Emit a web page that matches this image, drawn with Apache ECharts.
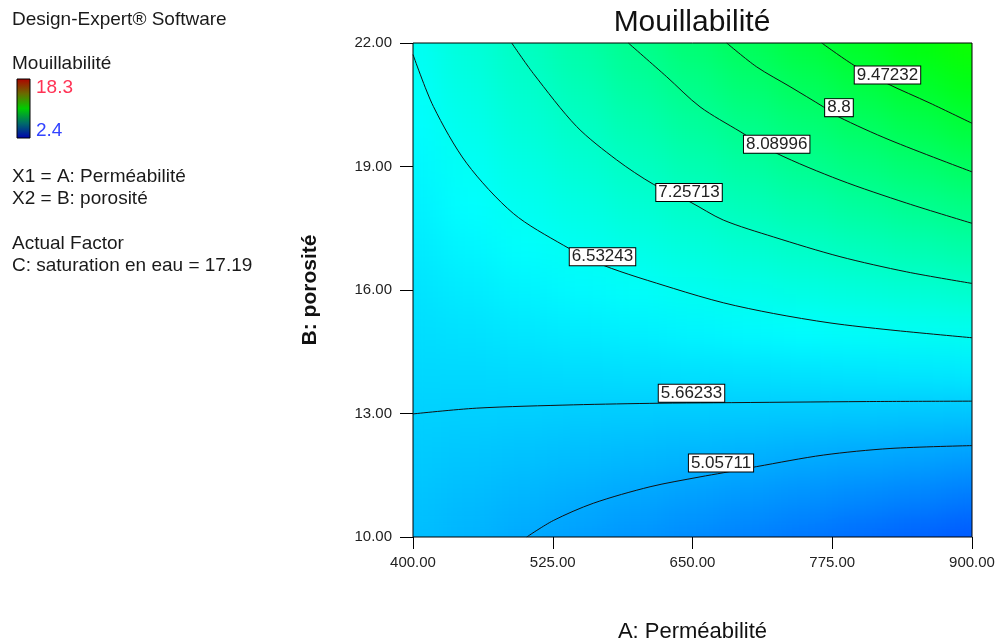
<!DOCTYPE html>
<html><head><meta charset="utf-8">
<script src="https://cdn.jsdelivr.net/npm/echarts@6/dist/echarts.min.js"></script>
<style>
html,body{margin:0;padding:0;background:#fff;}
#wrap{position:relative;width:997px;height:641px;overflow:hidden;background:#fff;}
#clip{position:absolute;left:413px;top:43px;width:559px;height:494px;overflow:hidden;}
#heat{position:absolute;left:-60px;top:-60px;width:679px;height:614px;filter:url(#smooth);}
#main{position:absolute;left:0;top:0;width:997px;height:641px;}
</style></head>
<body>
<svg width="0" height="0" style="position:absolute">
  <filter id="smooth" x="0" y="0" width="100%" height="100%" color-interpolation-filters="sRGB">
    <feGaussianBlur stdDeviation="16"/>
    <feComponentTransfer><feFuncA type="linear" slope="40" intercept="0"/></feComponentTransfer>
  </filter>
</svg>
<div id="wrap">
  <div id="clip"><div id="heat"></div></div>
  <div id="main"></div>
</div>
<script>
// ---- data ----
const permeabiliteX = [400, 450, 500, 550, 600, 650, 700, 750, 800, 850, 900];
const porositeY = [10, 11, 12, 13, 14, 15, 16, 17, 18, 19, 20, 21, 22];
// estimated Mouillabilité at each (porosité row, perméabilité column)
const surface = [
  [5.36, 5.20, 5.04, 4.88, 4.72, 4.57, 4.41, 4.25, 4.09, 3.93, 3.77],
  [5.46, 5.35, 5.24, 5.12, 5.01, 4.90, 4.79, 4.67, 4.56, 4.45, 4.34],
  [5.56, 5.49, 5.43, 5.36, 5.30, 5.23, 5.17, 5.10, 5.04, 4.97, 4.90],
  [5.66, 5.64, 5.62, 5.60, 5.58, 5.57, 5.55, 5.53, 5.51, 5.49, 5.47],
  [5.76, 5.79, 5.82, 5.84, 5.87, 5.90, 5.93, 5.95, 5.98, 6.01, 6.04],
  [5.86, 5.93, 6.01, 6.08, 6.16, 6.23, 6.31, 6.38, 6.46, 6.53, 6.60],
  [5.96, 6.08, 6.20, 6.32, 6.44, 6.57, 6.69, 6.81, 6.93, 7.05, 7.17],
  [6.06, 6.23, 6.40, 6.56, 6.73, 6.90, 7.07, 7.23, 7.40, 7.57, 7.74],
  [6.16, 6.37, 6.59, 6.80, 7.02, 7.23, 7.45, 7.66, 7.88, 8.09, 8.30],
  [6.26, 6.52, 6.78, 7.04, 7.30, 7.57, 7.83, 8.09, 8.35, 8.61, 8.87],
  [6.36, 6.67, 6.98, 7.28, 7.59, 7.90, 8.21, 8.51, 8.82, 9.13, 9.44],
  [6.46, 6.81, 7.17, 7.52, 7.88, 8.23, 8.59, 8.94, 9.30, 9.65, 10.00],
  [6.56, 6.96, 7.36, 7.76, 8.16, 8.57, 8.97, 9.37, 9.77, 10.17, 10.57]
];
const colorMin = 2.4, colorMax = 18.3;

const contour5057 = [[501.7,10],[525.5,10.40],[561.3,10.82],[612,11.22],[656.7,11.46],[677.5,11.56],[707.4,11.71],[767,11.99],[826.7,12.15],[900,12.22]];
const contour5662 = [[400,12.99],[457,13.13],[543.4,13.21],[620.9,13.25],[668.6,13.26],[805.8,13.29],[900,13.30]];
const contour6532 = [[400,21.72],[418.2,20.46],[448,19.08],[489.7,17.86],[534.4,17.09],[570.2,16.60],[632.8,16.04],[677.5,15.69],[722.3,15.43],[773,15.20],[826.7,15.03],[900,14.84]];
const contour7257 = [[488.3,22],[507.6,21.26],[546.4,19.97],[582.2,19.16],[614.9,18.57],[647.8,18.14],[677.5,17.70],[722.3,17.29],[781.9,16.81],[841.6,16.44],[900,16.16]];
const contour8090 = [[592.6,22],[626.9,21.18],[656.7,20.45],[692.5,19.85],[725.3,19.32],[781.9,18.67],[841.6,18.11],[900,17.62]];
const contour8800 = [[680.6,22],[707.4,21.42],[737.2,20.94],[767,20.45],[780.4,20.21],[826.7,19.64],[900,18.87]];
const contour9472 = [[765.6,22],[793.8,21.47],[823.7,21.02],[862.4,20.54],[900,20.05]];
const contourLabels = [
  [824.4, 21.22, '9.47232'],
  [781.0, 20.43, '8.8'],
  [725.3, 19.54, '8.08996'],
  [646.9, 18.37, '7.25713'],
  [569.5, 16.81, '6.53243'],
  [649.1, 13.49, '5.66233'],
  [675.5, 11.80, '5.05711']
];
const xTicks = [400, 525, 650, 775, 900];
const yTicks = [10, 13, 16, 19, 22];

const FONT = "'Liberation Sans', Arial, sans-serif";
const RAINBOW = ['#0000ff', '#00ffff', '#00ff00', '#ffff00', '#ff0000'];

// ---- colour field ----
const heatData = [];
surface.forEach((row, j) => row.forEach((v, i) => heatData.push([i, j, v])));
const cellW = 559 / (permeabiliteX.length - 1), cellH = 494 / (porositeY.length - 1);
const heat = echarts.init(document.getElementById('heat'), null, {renderer: 'canvas'});
heat.setOption({
  animation: false,
  grid: {left: 60 - cellW / 2, top: 60 - cellH / 2, width: 559 + cellW, height: 494 + cellH, outerBoundsMode: 'none'},
  xAxis: {type: 'category', data: permeabiliteX.map(String), show: false},
  yAxis: {type: 'category', data: porositeY.map(String), show: false},
  visualMap: {show: false, min: colorMin, max: colorMax, dimension: 2, inRange: {color: RAINBOW}},
  series: [{type: 'heatmap', data: heatData, progressive: 0, itemStyle: {borderWidth: 0}, emphasis: {disabled: true}}]
});

// ---- axes, contours, texts ----
const lineSeries = [contour5057, contour5662, contour6532, contour7257, contour8090, contour8800, contour9472].map(d => ({
  type: 'line', data: d, symbol: 'none', smooth: 0.3, silent: true, z: 3,
  lineStyle: {color: '#111', width: 1}
}));
const main = echarts.init(document.getElementById('main'), null, {renderer: 'canvas'});
const txt = (x, y, text, size, fill, extra) => Object.assign({
  type: 'text', x: x, y: y, silent: true,
  style: Object.assign({text: text, fontSize: size, fontFamily: FONT, fill: fill, verticalAlign: 'middle', align: 'left'}, extra || {})
});
main.setOption({
  animation: false,
  backgroundColor: 'transparent',
  textStyle: {fontFamily: FONT},
  grid: {left: 413, top: 43, width: 559, height: 494, show: true, borderColor: '#000', borderWidth: 1,
    backgroundColor: 'transparent', outerBoundsMode: 'none', containLabel: false},
  xAxis: {
    type: 'value', min: xTicks[0], max: xTicks[xTicks.length - 1], interval: xTicks[1] - xTicks[0],
    axisLine: {show: false}, axisTick: {length: 12, lineStyle: {color: '#000'}},
    axisLabel: {margin: 18, fontSize: 15, color: '#222', formatter: v => v.toFixed(2)},
    splitLine: {show: false},
    name: 'A: Perméabilité', nameLocation: 'middle', nameGap: 84,
    nameTextStyle: {fontSize: 22, color: '#111'}
  },
  yAxis: {
    type: 'value', min: yTicks[0], max: yTicks[yTicks.length - 1], interval: yTicks[1] - yTicks[0],
    axisLine: {show: false}, axisTick: {length: 13, lineStyle: {color: '#000'}},
    axisLabel: {margin: 21, fontSize: 15, color: '#222', formatter: v => v.toFixed(2)},
    splitLine: {show: false},
    name: 'B: porosité', nameLocation: 'middle', nameGap: 92,
    nameTextStyle: {fontSize: 21, fontWeight: 'bold', color: '#111'}
  },
  series: lineSeries.concat([{
    type: 'scatter', data: contourLabels, symbol: 'circle', symbolSize: 1, silent: true, z: 5,
    itemStyle: {color: 'rgba(0,0,0,0)', opacity: 1},
    label: {
      show: true, position: 'inside', formatter: p => p.value[2], opacity: 1,
      fontSize: 17, lineHeight: 15, color: '#222', backgroundColor: '#ffffff',
      borderColor: '#000', borderWidth: 1, padding: [2, 2, 0, 2]
    }
  }]),
  graphic: [
    txt(692, 23, 'Mouillabilité', 30, '#111', {align: 'center'}),
    txt(12, 20, 'Design-Expert® Software', 19, '#1a1a1a'),
    txt(12, 64, 'Mouillabilité', 19, '#1a1a1a'),
    {type: 'rect', silent: true, shape: {x: 17, y: 79, width: 13, height: 59},
      style: {stroke: '#000', lineWidth: 1, fill: new echarts.graphic.LinearGradient(0, 0, 0, 1, [
        {offset: 0, color: '#b00000'}, {offset: 0.25, color: '#6a6a00'}, {offset: 0.5, color: '#00cc00'},
        {offset: 0.75, color: '#006a6a'}, {offset: 1, color: '#0000b0'}])}},
    txt(36, 88, String(colorMax), 19, '#ff3355'),
    txt(36, 131, String(colorMin), 19, '#3344ff'),
    txt(12, 177, 'X1 = A: Perméabilité', 19, '#1a1a1a'),
    txt(12, 199, 'X2 = B: porosité', 19, '#1a1a1a'),
    txt(12, 244, 'Actual Factor', 19, '#1a1a1a'),
    txt(12, 266, 'C: saturation en eau = 17.19', 19, '#1a1a1a')
  ]
});
</script>
</body></html>
